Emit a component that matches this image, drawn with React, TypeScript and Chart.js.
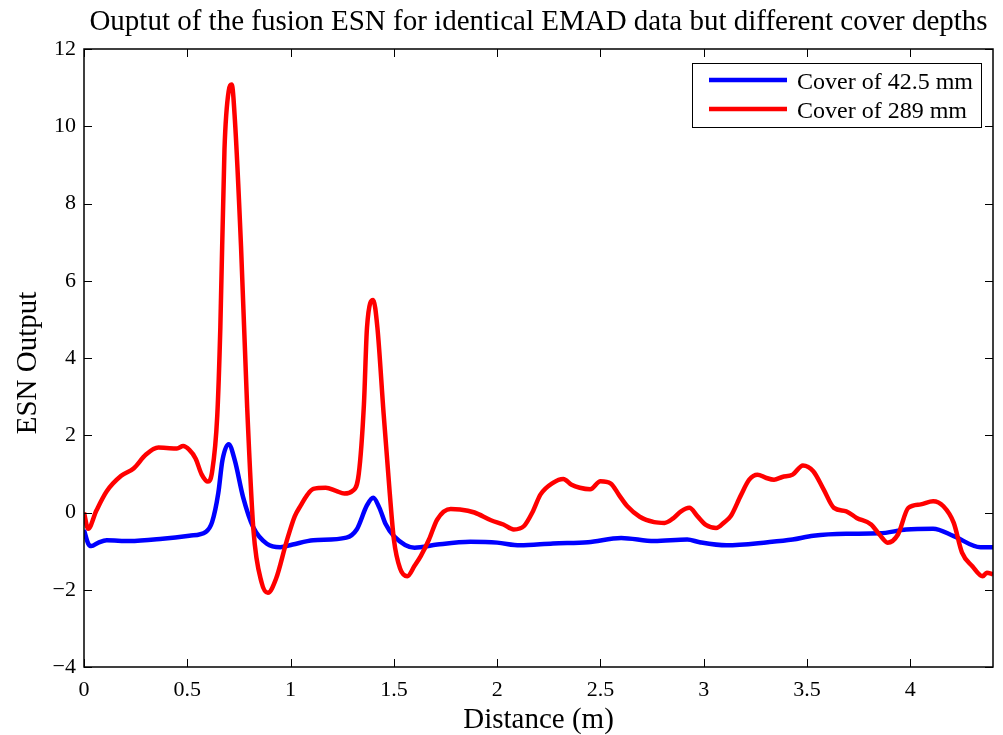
import React, { useEffect, useRef } from "react";
import { Chart, registerables } from "chart.js";

Chart.register(...registerables);

const titleText = "Ouptut of the fusion ESN for identical EMAD data but different cover depths";
const xAxisLabel = "Distance (m)";
const yAxisLabel = "ESN Output";
const seriesLabels = ["Cover of 42.5 mm", "Cover of 289 mm"];
const seriesColors = ["#0000ff", "#ff0000"];

const xTickValues = [0, 0.5, 1, 1.5, 2, 2.5, 3, 3.5, 4];
const yTickValues = [-4, -2, 0, 2, 4, 6, 8, 10, 12];

const blueX = [
  0, 0.02, 0.035, 0.07, 0.11, 0.22, 0.38, 0.51, 0.59, 0.62, 0.65, 0.67, 0.7, 0.73, 0.77, 0.82, 0.885, 0.95,
  1.01, 1.11, 1.27, 1.32, 1.37, 1.4, 1.43, 1.46, 1.5, 1.6, 1.71, 1.87, 2.0, 2.11, 2.27, 2.44, 2.6, 2.76, 2.92,
  2.98, 3.11, 3.31, 3.43, 3.53, 3.69, 3.85, 3.98, 4.11, 4.21, 4.34, 4.4,
];
const blueY = [
  -0.45, -0.8, -0.87, -0.78, -0.72, -0.74, -0.68, -0.6, -0.5, -0.25, 0.5, 1.35, 1.77, 1.35, 0.4, -0.39, -0.81, -0.9,
  -0.83, -0.72, -0.65, -0.44, 0.19, 0.38, 0.12, -0.3, -0.61, -0.91, -0.83, -0.76, -0.78, -0.85, -0.8, -0.77, -0.66, -0.74, -0.7,
  -0.77, -0.85, -0.77, -0.7, -0.6, -0.55, -0.54, -0.44, -0.42, -0.61, -0.9, -0.9,
];

const redX = [
  0, 0.02, 0.06, 0.11, 0.18, 0.24, 0.3, 0.36, 0.4, 0.45, 0.48, 0.51, 0.54, 0.57, 0.6, 0.62, 0.645, 0.66, 0.68,
  0.7, 0.715, 0.73, 0.76, 0.79, 0.82, 0.86, 0.89, 0.93, 0.98, 1.02, 1.05, 1.08, 1.11, 1.17, 1.22, 1.26, 1.3,
  1.33, 1.355, 1.37, 1.4, 1.42, 1.45, 1.48, 1.5, 1.53, 1.565, 1.6, 1.63, 1.67, 1.71, 1.775, 1.82, 1.89, 1.97,
  2.03, 2.08, 2.13, 2.17, 2.21, 2.27, 2.32, 2.36, 2.4, 2.45, 2.5, 2.55, 2.59, 2.63, 2.69, 2.76, 2.81, 2.85,
  2.89, 2.93, 2.97, 3.01, 3.06, 3.1, 3.13, 3.18, 3.22, 3.26, 3.3, 3.34, 3.38, 3.43, 3.48, 3.53, 3.58, 3.63,
  3.69, 3.74, 3.81, 3.85, 3.89, 3.94, 3.99, 4.05, 4.11, 4.16, 4.21, 4.25, 4.3, 4.35, 4.37, 4.4,
];
const redY = [
  0.0, -0.42, 0.05, 0.55, 0.95, 1.14, 1.5, 1.68, 1.67, 1.66, 1.72, 1.62, 1.4, 0.98, 0.8, 1.05, 2.5, 4.8, 9.4,
  10.9, 11.08, 10.2, 6.9, 2.7, -0.44, -1.82, -2.08, -1.71, -0.76, -0.1, 0.19, 0.45, 0.61, 0.64, 0.56, 0.49, 0.56,
  1.0, 2.8, 4.8, 5.5, 4.8, 2.58, 0.5, -0.7, -1.45, -1.65, -1.38, -1.13, -0.7, -0.18, 0.09, 0.08, 0.0, -0.2,
  -0.31, -0.44, -0.35, 0.0, 0.47, 0.77, 0.87, 0.72, 0.64, 0.6, 0.81, 0.75, 0.45, 0.16, -0.11, -0.25, -0.27, -0.16,
  0.03, 0.12, -0.1, -0.32, -0.4, -0.25, -0.1, 0.45, 0.85, 0.98, 0.9, 0.85, 0.92, 0.98, 1.22, 1.07, 0.6, 0.12,
  0.03, -0.14, -0.31, -0.57, -0.78, -0.57, 0.12, 0.21, 0.29, 0.16, -0.27, -1.04, -1.39, -1.65, -1.56, -1.6,
];

const FONT = "'Liberation Serif', 'Times New Roman', serif";

const decorPlugin = {
  id: "decor",
  afterDraw(chart: any) {
    const ctx = chart.ctx as CanvasRenderingContext2D;
    const { left, right, top, bottom } = chart.chartArea;
    const xs = chart.scales.x;
    const ys = chart.scales.y;
    ctx.save();
    ctx.strokeStyle = "#000";
    ctx.lineWidth = 1.5;
    ctx.strokeRect(left, top, right - left, bottom - top);
    ctx.lineWidth = 1;
    const tl = 8;
    ctx.beginPath();
    xTickValues.forEach((v) => {
      const px = Math.round(xs.getPixelForValue(v)) + 0.5;
      ctx.moveTo(px, bottom);
      ctx.lineTo(px, bottom - tl);
      ctx.moveTo(px, top);
      ctx.lineTo(px, top + tl);
    });
    yTickValues.forEach((v) => {
      const py = Math.round(ys.getPixelForValue(v)) + 0.5;
      ctx.moveTo(left, py);
      ctx.lineTo(left + tl, py);
      ctx.moveTo(right, py);
      ctx.lineTo(right - tl, py);
    });
    ctx.stroke();

    ctx.fillStyle = "#000";
    ctx.font = `29px ${FONT}`;
    ctx.textAlign = "center";
    ctx.textBaseline = "alphabetic";
    ctx.fillText(titleText, (left + right) / 2, 30);
    ctx.fillText(xAxisLabel, (left + right) / 2, 728);
    ctx.save();
    ctx.translate(36, 363);
    ctx.rotate(-Math.PI / 2);
    ctx.fillText(yAxisLabel, 0, 0);
    ctx.restore();

    const lx = 692.5, ly = 63.5, lw = 289, lh = 64;
    ctx.fillStyle = "#fff";
    ctx.fillRect(lx, ly, lw, lh);
    ctx.strokeStyle = "#000";
    ctx.lineWidth = 1;
    ctx.strokeRect(lx, ly, lw, lh);
    ctx.font = `24px ${FONT}`;
    ctx.textAlign = "left";
    const rows = [80, 109];
    seriesLabels.forEach((lab, i) => {
      ctx.strokeStyle = seriesColors[i];
      ctx.lineWidth = 4.5;
      ctx.beginPath();
      ctx.moveTo(709, rows[i]);
      ctx.lineTo(787, rows[i]);
      ctx.stroke();
      ctx.fillStyle = "#000";
      ctx.fillText(lab, 797, rows[i] + 8.5);
    });
    ctx.restore();
  },
};

export default function App() {
  const ref = useRef<HTMLCanvasElement | null>(null);
  useEffect(() => {
    document.body.style.margin = "0";
    const canvas = ref.current;
    if (!canvas) return;
    const chart = new Chart(canvas, {
      type: "line",
      data: {
        datasets: [
          {
            label: seriesLabels[0],
            data: blueX.map((x, i) => ({ x, y: blueY[i] })),
            borderColor: seriesColors[0],
            borderWidth: 4.5,
            pointRadius: 0,
            fill: false,
            cubicInterpolationMode: "monotone",
            order: 1,
          },
          {
            label: seriesLabels[1],
            data: redX.map((x, i) => ({ x, y: redY[i] })),
            borderColor: seriesColors[1],
            borderWidth: 4.5,
            pointRadius: 0,
            fill: false,
            cubicInterpolationMode: "monotone",
            order: 0,
          },
        ],
      },
      options: {
        animation: false,
        responsive: false,
        devicePixelRatio: 1,
        layout: { padding: { top: 49, left: 0, right: 10, bottom: 0 } },
        plugins: { legend: { display: false }, title: { display: false }, tooltip: { enabled: false } },
        scales: {
          x: {
            type: "linear",
            min: 0,
            max: 4.4,
            grid: { display: false, drawTicks: false },
            border: { display: false },
            afterBuildTicks: (scale: any) => {
              scale.ticks = xTickValues.map((v) => ({ value: v }));
            },
            afterFit: (scale: any) => {
              scale.height = 68;
            },
            ticks: {
              color: "#000",
              padding: 10,
              maxRotation: 0,
              autoSkip: false,
              font: { family: FONT, size: 22 },
              callback: (v: any) => String(v),
            },
          },
          y: {
            type: "linear",
            min: -4,
            max: 12,
            grid: { display: false, drawTicks: false },
            border: { display: false },
            afterBuildTicks: (scale: any) => {
              scale.ticks = yTickValues.map((v) => ({ value: v }));
            },
            afterFit: (scale: any) => {
              scale.width = 84;
            },
            ticks: {
              color: "#000",
              padding: 8,
              autoSkip: false,
              font: { family: FONT, size: 22 },
              callback: (v: any) => String(v).replace("-", "\u2212"),
            },
          },
        },
      },
      plugins: [decorPlugin],
    });
    return () => chart.destroy();
  }, []);
  return (
    <div style={{ width: 1003, height: 735, background: "#fff" }}>
      <canvas ref={ref} width={1003} height={735} style={{ display: "block", width: 1003, height: 735 }} />
    </div>
  );
}
